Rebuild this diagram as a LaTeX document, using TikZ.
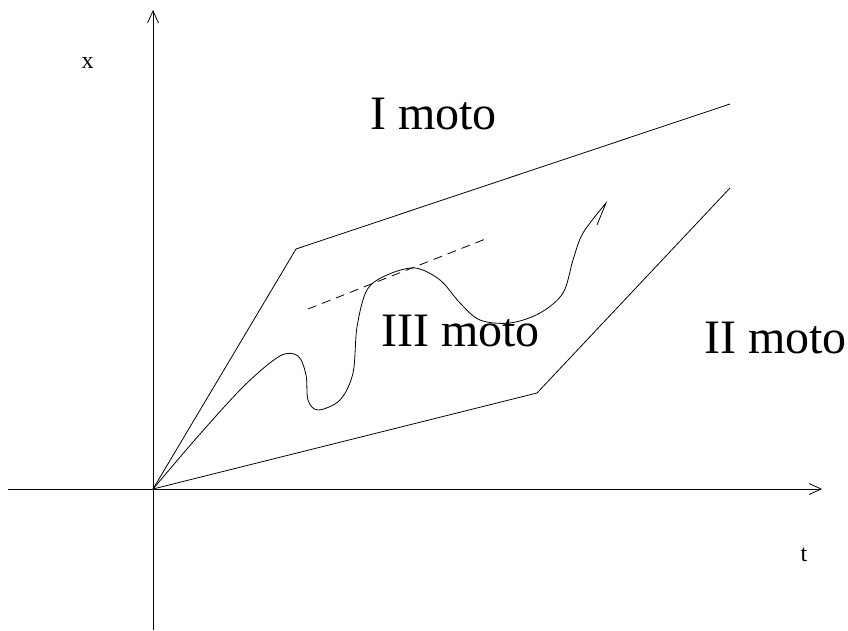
\documentclass[tikz,border=0pt]{standalone}
\usepackage{fontspec}
\setmainfont{Liberation Serif}
\usetikzlibrary{arrows.meta,positioning}

\begin{document}
\begin{tikzpicture}[
    x=1pt, y=1pt,
    axis/.style={line width=0.8pt, -{Straight Barb[length=12pt,width=11pt,line width=0.8pt]}},
    edge/.style={line width=0.8pt},
    axlabel/.style={font=\fontsize{24}{28}\selectfont, inner sep=0pt, anchor=base},
    region/.style={font=\fontsize{48}{56}\selectfont, inner sep=0pt, anchor=base west}
]
    \useasboundingbox (0,0) rectangle (848,630);

    % axes
    \coordinate (O) at (153,141);
    \coordinate (ybot) at (153,0);
    \coordinate (ytop) at (153,620);
    \coordinate (xleft) at (8,141);
    \coordinate (xright) at (822,141);
    \draw[axis] (ybot) -- (ytop);
    \draw[axis] (xleft) -- (xright);
    \node[axlabel] (xl) at (87.5,561) {x};
    \node[axlabel] (tl) at (804,69) {t};

    % boundaries of the regions
    \coordinate (up1) at (296,381);
    \coordinate (up2) at (730,526);
    \coordinate (lo1) at (537,237);
    \coordinate (lo2) at (730,442);
    \draw[edge] (O) -- (up1) -- (up2);
    \draw[edge] (O) -- (lo1) -- (lo2);

    % path
    \draw[edge] plot[smooth, tension=0.55] coordinates {
        (153,141) (200,196) (245,245) (280,274) (298,274) (306,255)
        (308,230) (318,220) (340,230) (353,257) (357,303) (367,340)
        (387,355) (415,362) (440,350) (460,327) (480,310) (510,307)
        (540,317) (563,337) (573,370) (583,397) (606,427)}
        -- (597,405);
    \draw[edge, dash pattern=on 9pt off 6pt] (308,321) -- (488,392);

    \node[region] (m1) at (370,500) {I moto};
    \node[region] (m2) at (704,277) {II moto};
    \node[region] (m3) at (381,284) {III moto};
\end{tikzpicture}
\end{document}
